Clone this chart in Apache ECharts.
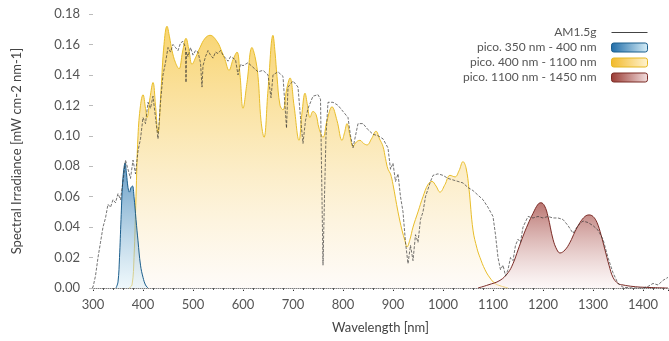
<!DOCTYPE html>
<html><head><meta charset="utf-8">
<script src="https://cdn.jsdelivr.net/npm/echarts@6/dist/echarts.min.js"></script>
<style>html,body{margin:0;padding:0;background:#fff}#c{width:669px;height:341px}</style>
</head><body><div id="c"></div>
<script>
const xTicks = [300,400,500,600,700,800,900,1000,1100,1200,1300,1400];
const yTicks = [0,0.02,0.04,0.06,0.08,0.10,0.12,0.14,0.16,0.18];
const seriesNames = ['AM1.5g','pico. 350 nm - 400 nm','pico. 400 nm - 1100 nm','pico. 1100 nm - 1450 nm'];

const amWl = [280,295,300,305,310,315,320,325,330,335,340,345,350,355,360,365,370,375,380,385,390,395,400,405,410,415,420,425,430,435,440,445,450,455,460,465,470,475,480,485,486,487,490,495,500,505,510,515,518,520,525,530,535,540,545,550,555,560,565,570,575,580,585,590,595,600,610,620,630,640,650,656,660,670,680,687,690,700,710,715,720,725,730,740,750,755,760,763,766,770,780,790,800,810,815,820,825,830,840,850,860,870,880,890,895,900,905,910,915,920,925,930,935,940,945,950,955,960,965,970,975,980,990,1000,1010,1020,1030,1040,1050,1060,1070,1080,1090,1100,1105,1110,1115,1120,1125,1130,1135,1140,1145,1150,1155,1160,1170,1180,1190,1200,1210,1220,1230,1240,1250,1260,1270,1280,1290,1300,1310,1320,1330,1340,1350,1360,1380,1400,1410,1420,1430,1440,1450];
const amVal = [0,0,0.0005,0.008,0.02,0.03,0.04,0.046,0.055,0.053,0.058,0.056,0.062,0.058,0.07,0.084,0.078,0.072,0.084,0.075,0.09,0.098,0.112,0.108,0.122,0.118,0.126,0.112,0.098,0.122,0.14,0.148,0.158,0.155,0.16,0.158,0.156,0.161,0.162,0.158,0.135,0.155,0.152,0.158,0.153,0.156,0.155,0.148,0.132,0.146,0.152,0.156,0.153,0.151,0.155,0.154,0.156,0.153,0.151,0.149,0.152,0.151,0.15,0.14,0.147,0.146,0.148,0.145,0.142,0.143,0.14,0.125,0.14,0.142,0.139,0.105,0.132,0.136,0.132,0.112,0.095,0.11,0.118,0.126,0.127,0.124,0.015,0.06,0.1,0.122,0.122,0.12,0.116,0.112,0.1,0.092,0.1,0.108,0.108,0.104,0.101,0.1,0.098,0.092,0.078,0.082,0.07,0.075,0.06,0.05,0.03,0.016,0.028,0.018,0.035,0.03,0.045,0.05,0.06,0.065,0.07,0.074,0.075,0.074,0.072,0.071,0.07,0.069,0.066,0.064,0.061,0.058,0.053,0.047,0.035,0.02,0.012,0.015,0.008,0.012,0.02,0.018,0.028,0.032,0.03,0.04,0.047,0.046,0.047,0.046,0.047,0.046,0.046,0.045,0.041,0.036,0.041,0.044,0.043,0.041,0.038,0.032,0.02,0.01,0.003,0.0005,0,0,0.001,0.003,0.002,0.005,0.007];

const blueWl = [346,350,353,356,359,362,364,367,370,373,376,379,382,386,390,395,400,405,410];
const blueVal = [0,0.004,0.02,0.045,0.068,0.079,0.082,0.075,0.066,0.063,0.066,0.067,0.06,0.045,0.031,0.015,0.007,0.002,0];

const yellowWl = [372,378,382,386,390,395,400,405,408,414,420,425,430,436,442,448,453,458,465,472,479,486,492,498,506,514,524,534,548,558,564,572,580,588,594,600,608,618,624,630,636,642,650,660,664,668,674,680,687,694,702,712,718,724,729,734,740,746,752,760,768,778,788,798,803,808,814,820,827,834,841,848,857,866,873,880,885,890,895,900,910,918,924,928,934,940,950,960,970,978,986,994,1004,1014,1024,1032,1040,1046,1052,1060,1068,1074,1084,1094,1104,1114,1130];
const yellowVal = [0,0.002,0.02,0.06,0.1,0.12,0.127,0.118,0.112,0.125,0.135,0.12,0.102,0.13,0.16,0.172,0.165,0.156,0.148,0.144,0.155,0.164,0.156,0.147,0.152,0.158,0.164,0.166,0.162,0.155,0.15,0.143,0.15,0.155,0.14,0.118,0.135,0.158,0.152,0.139,0.11,0.099,0.13,0.166,0.155,0.139,0.12,0.117,0.13,0.138,0.12,0.097,0.115,0.128,0.12,0.112,0.116,0.114,0.105,0.099,0.11,0.119,0.11,0.097,0.102,0.108,0.1,0.093,0.096,0.097,0.095,0.094,0.098,0.103,0.098,0.093,0.085,0.078,0.075,0.068,0.05,0.038,0.031,0.027,0.032,0.04,0.05,0.06,0.068,0.07,0.067,0.063,0.068,0.074,0.073,0.077,0.083,0.079,0.065,0.038,0.026,0.02,0.012,0.0066,0.003,0.0015,0];

const redWl = [1070,1090,1114,1130,1140,1150,1160,1170,1180,1190,1196,1203,1210,1220,1228,1234,1244,1254,1264,1274,1284,1292,1300,1308,1316,1324,1332,1340,1350,1360,1380,1400,1450];
const redVal = [0,0.002,0.005,0.01,0.016,0.025,0.034,0.042,0.049,0.055,0.056,0.054,0.047,0.032,0.025,0.023,0.025,0.03,0.037,0.043,0.047,0.048,0.047,0.043,0.035,0.025,0.015,0.007,0.003,0.002,0.001,0.0005,0];

const pairs = (a,b) => a.map((x,i)=>[x,b[i]]);
const FONT = 'Lato';
const vgrad = (c0,c1) => new echarts.graphic.LinearGradient(0,0,0,1,[{offset:0,color:c0},{offset:1,color:c1}]);
const hgrad = (c0,c1) => new echarts.graphic.LinearGradient(0,0,1,0,[{offset:0,color:c0},{offset:1,color:c1}]);

const chart = echarts.init(document.getElementById('c'), null, {renderer:'canvas'});
chart.setOption({
  animation:false,
  backgroundColor:'#fff',
  grid:{left:93,right:1,top:14,bottom:53},
  legend:{
    orient:'vertical', right:21, top:26, align:'right', itemGap:2, padding:0,
    itemWidth:36, itemHeight:9,
    formatter: n => '{t|' + n + '}',
    textStyle:{fontFamily:FONT,fontSize:12,color:'#555',lineHeight:13,
      rich:{t:{fontFamily:FONT,fontSize:12,color:'#555',lineHeight:13,padding:[0,10,0,0]}}},
    data:[
      {name:seriesNames[0], lineStyle:{type:'solid',color:'#444',width:1,opacity:1},
        itemStyle:{color:'rgba(0,0,0,0)',borderColor:'rgba(0,0,0,0)',borderWidth:0,opacity:0}},
      {name:seriesNames[1], icon:'roundRect', itemStyle:{color:hgrad('#1f6ca8','#d6eef8'),borderColor:'#1b5e8c',borderWidth:1}},
      {name:seriesNames[2], icon:'roundRect', itemStyle:{color:hgrad('#f2b92a','#fff3d0'),borderColor:'#e6b820',borderWidth:1}},
      {name:seriesNames[3], icon:'roundRect', itemStyle:{color:hgrad('#9a3a33','#f2dede'),borderColor:'#7a2a25',borderWidth:1}}
    ]
  },
  xAxis:[{
    type:'value', min:300, max:1450, interval:100,
    name:'Wavelength [nm]', nameLocation:'middle', nameGap:33,
    nameTextStyle:{fontFamily:FONT,fontSize:13,color:'#444'},
    axisLine:{show:true,onZero:false,lineStyle:{color:'#111',width:1}},
    axisTick:{show:true,length:3,lineStyle:{color:'#333'}},
    minorTick:{show:true,splitNumber:5,length:2,lineStyle:{color:'#555'}},
    axisLabel:{fontFamily:FONT,fontSize:13,color:'#555',margin:10,showMaxLabel:false,
      formatter:v=>xTicks.includes(v)?String(v):''},
    splitLine:{show:false}
  },{
    type:'value', min:300, max:1450, interval:100, position:'top',
    axisLine:{show:true,lineStyle:{color:'#bbb',type:'dotted',width:1}},
    axisTick:{show:true,inside:true,length:2,lineStyle:{color:'#bbb'}},
    axisLabel:{show:false}, splitLine:{show:false}
  }],
  yAxis:{
    type:'value', min:0, max:0.18, interval:0.02,
    name:'Spectral Irradiance [mW cm-2 nm-1]', nameLocation:'middle', nameGap:70,
    nameTextStyle:{fontFamily:FONT,fontSize:13,color:'#444'},
    axisLine:{show:false},
    axisTick:{show:true,length:4,lineStyle:{color:'#bbb'}},
    axisLabel:{fontFamily:FONT,fontSize:13,color:'#555',margin:13,
      formatter:v=>{const t=yTicks.find(k=>Math.abs(k-v)<1e-9);return t===undefined?'':t.toFixed(2);}},
    splitLine:{show:false}
  },
  series:[
    {name:seriesNames[2], type:'line', data:pairs(yellowWl,yellowVal), smooth:0.4, symbol:'none', z:2,
      lineStyle:{color:'#e8bd2a',width:1}, itemStyle:{color:'#f2b92a'},
      areaStyle:{color:vgrad('rgba(245,192,45,0.98)','rgba(253,246,238,0.6)')}},
    {name:seriesNames[1], type:'line', data:pairs(blueWl,blueVal), smooth:0.4, symbol:'none', z:3,
      lineStyle:{color:'#1b5e8c',width:1}, itemStyle:{color:'#1f6ca8'},
      areaStyle:{color:vgrad('rgba(30,110,170,0.98)','rgba(220,240,248,0.7)')}},
    {name:seriesNames[3], type:'line', data:pairs(redWl,redVal), smooth:0.4, symbol:'none', z:3,
      lineStyle:{color:'#7a2a25',width:1}, itemStyle:{color:'#9a3a33'},
      areaStyle:{color:vgrad('rgba(155,55,48,0.98)','rgba(250,238,238,0.6)')}},
    {name:seriesNames[0], type:'line', data:pairs(amWl,amVal), smooth:false, symbol:'none', z:5,
      lineStyle:{color:'#333',width:0.8,type:[3,1.5],opacity:0.85}, itemStyle:{color:'#333'}}
  ]
});
</script></body></html>
